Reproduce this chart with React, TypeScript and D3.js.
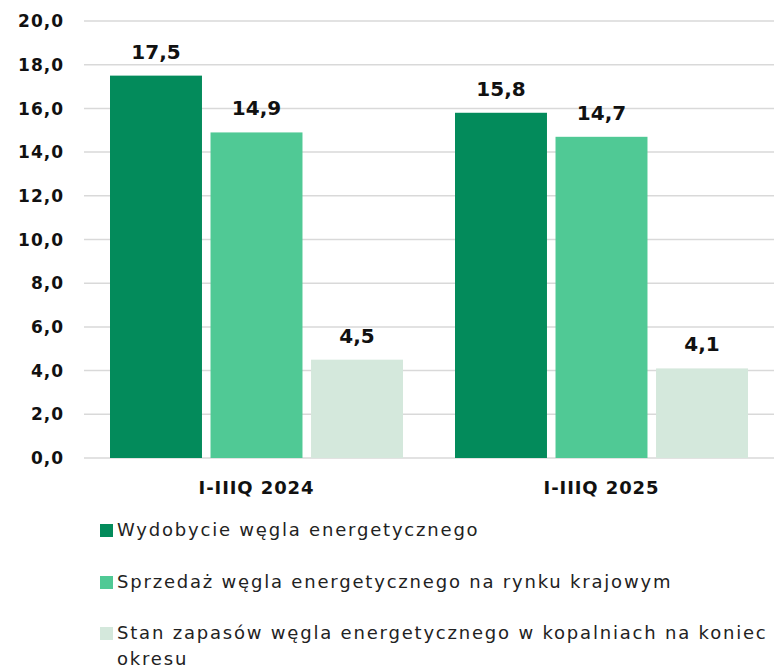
import React, { useEffect, useRef } from 'react';
import * as d3 from 'd3';

const categories = ['I-IIIQ 2024', 'I-IIIQ 2025'];
const seriesNames = [
  'Wydobycie węgla energetycznego',
  'Sprzedaż węgla energetycznego na rynku krajowym',
  'Stan zapasów węgla energetycznego w kopalniach na koniec okresu',
];
const extraction = [17.5, 15.8];
const sales = [14.9, 14.7];
const stocks = [4.5, 4.1];
const yTicks = [0, 2, 4, 6, 8, 10, 12, 14, 16, 18, 20];
const colors = ['#038b5b', '#50c995', '#d4e8dc'];

const FONT = "'DejaVu Sans', sans-serif";

const App = () => {
  const svgRef = useRef<SVGSVGElement>(null);

  useEffect(() => {
    const svg = d3.select(svgRef.current);
    svg.selectAll('*').remove();

    const width = 774;
    const height = 669;
    const margin = { top: 21, right: 0, bottom: 211, left: 84 };
    const innerW = width - margin.left - margin.right;
    const innerH = height - margin.top - margin.bottom;

    const series = [extraction, sales, stocks];
    const fmt = (v: number) => d3.format('.1f')(v).replace('.', ',');

    const y = d3.scaleLinear().domain([0, 20]).range([innerH, 0]);
    const x0 = d3.scaleBand().domain(categories).range([0, innerW]).paddingInner(0).paddingOuter(0);
    const x1 = d3.scaleBand()
      .domain(seriesNames)
      .range([26, x0.bandwidth() - 26])
      .paddingInner(0.085);

    const g = svg.append('g').attr('transform', `translate(${margin.left},${margin.top})`);

    // gridlines
    g.append('g')
      .selectAll('line')
      .data(yTicks)
      .enter()
      .append('line')
      .attr('x1', 0)
      .attr('x2', innerW)
      .attr('y1', d => y(d))
      .attr('y2', d => y(d))
      .attr('stroke', '#d9d9d9')
      .attr('stroke-width', 1.5);

    // y tick labels
    g.append('g')
      .selectAll('text')
      .data(yTicks)
      .enter()
      .append('text')
      .attr('x', -20)
      .attr('y', d => y(d))
      .attr('dy', '0.36em')
      .attr('text-anchor', 'end')
      .style('font-family', FONT)
      .style('font-weight', 700)
      .style('font-size', '17px')
      .style('letter-spacing', '1px')
      .style('fill', '#111')
      .text(d => fmt(d));

    // bars
    categories.forEach((cat, ci) => {
      const cg = g.append('g').attr('transform', `translate(${x0(cat)},0)`);
      seriesNames.forEach((name, si) => {
        const v = series[si][ci];
        cg.append('rect')
          .attr('x', x1(name)!)
          .attr('width', x1.bandwidth())
          .attr('y', y(v))
          .attr('height', innerH - y(v))
          .attr('fill', colors[si]);
        cg.append('text')
          .attr('x', x1(name)! + x1.bandwidth() / 2)
          .attr('y', y(v) - 17)
          .attr('text-anchor', 'middle')
          .style('font-family', FONT)
          .style('font-weight', 700)
          .style('font-size', '20px')
          .style('fill', '#111')
          .text(fmt(v));
      });
      g.append('text')
        .attr('x', x0(cat)! + x0.bandwidth() / 2)
        .attr('y', innerH + 36)
        .attr('text-anchor', 'middle')
        .style('font-family', FONT)
        .style('font-weight', 700)
        .style('font-size', '18px')
        .style('letter-spacing', '0.9px')
        .style('fill', '#111')
        .text(cat);
    });

    // legend
    const legendRows = [
      [seriesNames[0]],
      [seriesNames[1]],
      ['Stan zapasów węgla energetycznego w kopalniach na koniec', 'okresu'],
    ];
    const rowY = [530, 582, 633];
    legendRows.forEach((lines, i) => {
      const lg = svg.append('g').attr('transform', `translate(100,${rowY[i]})`);
      lg.append('rect')
        .attr('x', 0)
        .attr('y', -6)
        .attr('width', 13)
        .attr('height', 13)
        .attr('fill', colors[i]);
      const t = lg.append('text')
        .attr('x', 17)
        .attr('y', 0)
        .style('font-family', FONT)
        .style('font-size', '18px')
        .style('letter-spacing', '1.8px')
        .style('fill', '#222');
      lines.forEach((line, li) => {
        t.append('tspan')
          .attr('x', 17)
          .attr('dy', li === 0 ? '0.35em' : '1.45em')
          .text(line);
      });
    });
  }, []);

  return (
    <div style={{ position: 'absolute', left: 0, top: 0 }}>
      <svg ref={svgRef} width={774} height={669} style={{ display: 'block' }}></svg>
    </div>
  );
};

export default App;
